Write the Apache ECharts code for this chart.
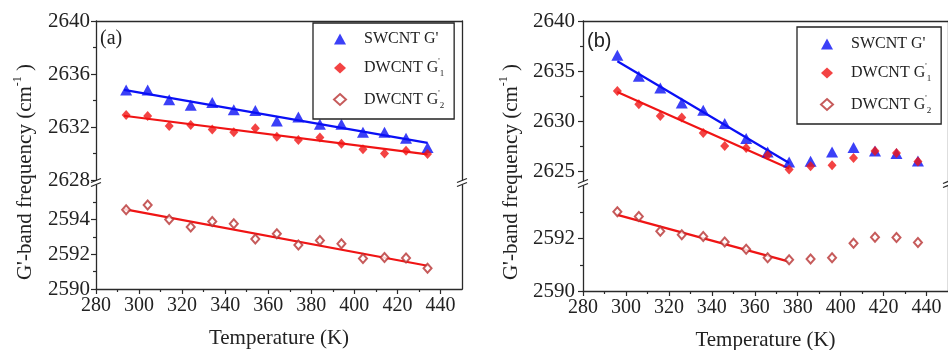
<!DOCTYPE html>
<html><head><meta charset="utf-8">
<script src="https://cdn.jsdelivr.net/npm/echarts@6/dist/echarts.min.js"></script>
<style>html,body{margin:0;padding:0;background:#fff}#c{width:948px;height:350px}</style>
</head><body><div id="c"></div>
<script>
// ---------- data: panel (a) ----------
const tempA = [294,304,314,324,334,344,354,364,374,384,394,404,414,424,434];
const swA = [2634.8,2634.8,2634.05,2633.65,2633.85,2633.3,2633.25,2632.45,2632.75,2632.2,2632.2,2631.6,2631.6,2631.15,2630.45];
const g1A = [2632.9,2632.83,2632.07,2632.15,2631.82,2631.6,2631.9,2631.27,2631.02,2631.2,2630.74,2630.32,2630.0,2630.2,2629.96];
const g2A = [2594.57,2594.84,2594.01,2593.57,2593.9,2593.76,2592.88,2593.19,2592.54,2592.8,2592.61,2591.76,2591.82,2591.79,2591.19];
const fitXA = [293,434];
const swFitA = [2634.8,2630.8];
const g1FitA = [2632.85,2629.94];
const g2FitA = [2594.61,2591.34];
// ---------- data: panel (b) ----------
const tempB = [296,306,316,326,336,346,356,366,376,386,396,406,416,426,436];
const swB = [2636.57,2634.47,2633.3,2631.8,2631.07,2629.74,2628.24,2626.9,2625.9,2625.97,2626.9,2627.34,2627.0,2626.74,2626.0];
const g1B = [2633.0,2631.67,2630.5,2630.34,2628.8,2627.5,2627.3,2626.57,2625.14,2625.47,2625.57,2626.3,2627.0,2626.8,2625.94];
const g2B = [2593.02,2592.84,2592.28,2592.14,2592.08,2591.87,2591.59,2591.27,2591.19,2591.22,2591.27,2591.82,2592.05,2592.04,2591.85];
const fitXB = [296,376];
const swFitB = [2635.97,2625.8];
const g1FitB = [2632.9,2625.24];
const g2FitB = [2592.9,2591.12];
// ---------- ticks / labels ----------
const xMajor = [280,300,320,340,360,380,400,420,440];
const xMinor = [290,310,330,350,370,390,410,430];
const yMajorAUp = [2628,2632,2636,2640];
const yMinorAUp = [2630,2634,2638];
const yMajorALo = [2590,2592,2594];
const yMinorALo = [2591,2593,2595];
const yMajorBUp = [2625,2630,2635,2640];
const yMinorBUp = [2627.5,2632.5,2637.5];
const yMajorBLo = [2590,2592];
const yMinorBLo = [2591,2593];
const seriesNames = ["SWCNT G'","DWCNT G1","DWCNT G2"];
const panelLabels = ['(a)','(b)'];
const xName = 'Temperature (K)';

const SERIF = 'Liberation Serif';
const AX = '#2a2a2a';
const BLUE = '#0a10f5', RED = '#f01414', DRED = '#b83232';

const option = {animation:false, backgroundColor:'#fff', grid:[], xAxis:[], yAxis:[], series:[], legend:[], graphic:[]};

function addGrid(left, top, width, height){
  option.grid.push({left, top, width, height, outerBoundsMode:'none', containLabel:false});
  return option.grid.length-1;
}
function lineOnly(){ return {show:true, onZero:false, lineStyle:{color:AX, width:1.3}}; }
function addX(gi, pos, opts){
  option.xAxis.push(Object.assign({type:'value', gridIndex:gi, position:pos, min:280, max:450,
    splitLine:{show:false}, axisLine:{show:false}, axisTick:{show:false}, axisLabel:{show:false}}, opts));
  return option.xAxis.length-1;
}
function addY(gi, pos, min, max, opts){
  option.yAxis.push(Object.assign({type:'value', gridIndex:gi, position:pos, min, max,
    splitLine:{show:false}, axisLine:{show:false}, axisTick:{show:false}, axisLabel:{show:false}}, opts));
  return option.yAxis.length-1;
}

function panel(p){
  const gU = addGrid(p.left, p.upTop, p.width, p.upH);
  const gL = addGrid(p.left, p.loTop, p.width, p.loH);
  const xU = addX(gU, 'top', {axisLine:lineOnly()});
  const xL = addX(gL, 'bottom', {axisLine:lineOnly(),
    axisTick:{show:true, customValues:xMajor, length:5, lineStyle:{color:AX, width:1.2}},
    axisLabel:{show:true, customValues:xMajor, margin:7, fontFamily:SERIF, fontSize:20, color:'#222', formatter:v=>String(v)},
    name:xName, nameLocation:'middle', nameGap:39,
    nameTextStyle:{fontFamily:SERIF, fontSize:21, color:'#222'}});
  addX(gL, 'bottom', {axisTick:{show:true, customValues:xMinor, length:3, lineStyle:{color:AX, width:1.2}}});
  function yset(g, min, max, majors, minors){
    const yi = addY(g, 'left', min, max, {axisLine:lineOnly(),
      axisTick:{show:true, customValues:majors, length:5, lineStyle:{color:AX, width:1.2}},
      axisLabel:{show:true, customValues:majors, margin:p.labelMargin, fontFamily:SERIF, fontSize:21, color:'#222', formatter:v=>String(v)}});
    addY(g, 'left', min, max, {axisTick:{show:true, customValues:minors, length:3, lineStyle:{color:AX, width:1.2}}});
    addY(g, 'right', min, max, {axisLine:lineOnly()});
    return yi;
  }
  const yU = yset(gU, p.upMin, p.upMax, p.upMajor, p.upMinor);
  const yL = yset(gL, p.loMin, p.loMax, p.loMajor, p.loMinor);

  const pts = (xs, ys) => xs.map((x,i)=>[x, ys[i]]);
  const fitLine = (xi, yi, xs, ys, color) => ({type:'line', xAxisIndex:xi, yAxisIndex:yi, data:pts(xs,ys),
    symbol:'none', silent:true, z:2, lineStyle:{color, width:2.2}});
  option.series.push(fitLine(xU, yU, p.fitX, p.swFit, BLUE));
  option.series.push(fitLine(xU, yU, p.fitX, p.g1Fit, RED));
  option.series.push(fitLine(xL, yL, p.fitX, p.g2Fit, RED));
  option.series.push({type:'scatter', name:seriesNames[0], xAxisIndex:xU, yAxisIndex:yU, data:pts(p.temp,p.sw),
    symbol:'triangle', symbolSize:[12,11], z:3, itemStyle:{color:BLUE}});
  option.series.push({type:'scatter', name:seriesNames[1], xAxisIndex:xU, yAxisIndex:yU, data:pts(p.temp,p.g1),
    symbol:'diamond', symbolSize:[9,10], z:4, itemStyle:{color:RED}});
  option.series.push({type:'scatter', name:seriesNames[2], xAxisIndex:xL, yAxisIndex:yL, data:pts(p.temp,p.g2),
    symbol:'emptyDiamond', symbolSize:[8,9], z:4, itemStyle:{color:DRED, borderColor:DRED, borderWidth:1.2}});

  option.legend.push({show:true, orient:'vertical', left:p.legLeft, top:p.legTop, data:seriesNames,
    itemWidth:p.iconW, itemHeight:p.iconH, itemGap:p.legGap, padding:p.legPad, borderColor:'#222', borderWidth:1.3,
    selectedMode:false,
    textStyle:{fontFamily:SERIF, fontSize:16, color:'#222',
      rich:{t:{fontFamily:SERIF, fontSize:16, color:'#222', padding:[0,0,0,13]},
            sup:{fontFamily:SERIF, fontSize:8, color:'#222', padding:[0,0,12,0]},
            sub:{fontFamily:SERIF, fontSize:9, color:'#222', padding:[12,0,0,0]}}},
    formatter: n => n==="DWCNT G1" ? "{t|DWCNT G}{sup|'}{sub|1}" : n==="DWCNT G2" ? "{t|DWCNT G}{sup|'}{sub|2}" : "{t|"+n+"}"});

  option.graphic.push({type:'text', left:p.lblX, top:p.lblY, style:{text:p.label, font:'20px '+p.lblFont, fill:'#222'}});
  option.graphic.push({type:'text', x:p.nameX, y:p.nameY, rotation:Math.PI/2,
    style:{text:"G'-band frequency (cm{s|-1} )", align:'center', verticalAlign:'middle',
      font:'21px '+SERIF, fill:'#222', rich:{s:{fontFamily:SERIF, fontSize:12, fill:'#222', padding:[0,0,14,0]}}}});
  const by = (p.upTop + p.upH + p.loTop)/2 + 1;
  [p.left, p.left + p.width].forEach(ax=>{
    option.graphic.push({type:'line', shape:{x1:ax-5, y1:by-1, x2:ax+5, y2:by-5}, style:{stroke:AX, lineWidth:1.2}, z:10});
    option.graphic.push({type:'line', shape:{x1:ax-5, y1:by+3, x2:ax+5, y2:by-1}, style:{stroke:AX, lineWidth:1.2}, z:10});
  });
}

panel({left:96, width:366, upTop:21, upH:159, loTop:185, loH:104,
  upMin:2628, upMax:2640, upMajor:yMajorAUp, upMinor:yMinorAUp,
  loMin:2590, loMax:2596, loMajor:yMajorALo, loMinor:yMinorALo, labelMargin:6,
  temp:tempA, sw:swA, g1:g1A, g2:g2A, fitX:fitXA, swFit:swFitA, g1Fit:g1FitA, g2Fit:g2FitA,
  legLeft:313, legTop:23, legGap:11, legPad:[8,10,9,20], iconW:12, iconH:11,
  label:panelLabels[0], lblX:100, lblY:29, lblFont:SERIF, nameX:25, nameY:172});
panel({left:583, width:365, upTop:21, upH:160, loTop:186, loH:105,
  upMin:2624, upMax:2640, upMajor:yMajorBUp, upMinor:yMinorBUp,
  loMin:2590, loMax:2594, loMajor:yMajorBLo, loMinor:yMinorBLo, labelMargin:8,
  temp:tempB, sw:swB, g1:g1B, g2:g2B, fitX:fitXB, swFit:swFitB, g1Fit:g1FitB, g2Fit:g2FitB,
  legLeft:797, legTop:27, legGap:11, legPad:[9,10,9,23], iconW:12, iconH:11,
  label:panelLabels[1], lblX:587, lblY:31, lblFont:'Liberation Sans', nameX:511, nameY:172});

const chart = echarts.init(document.getElementById('c'), null, {renderer:'canvas'});
chart.setOption(option);
</script>
</body></html>
